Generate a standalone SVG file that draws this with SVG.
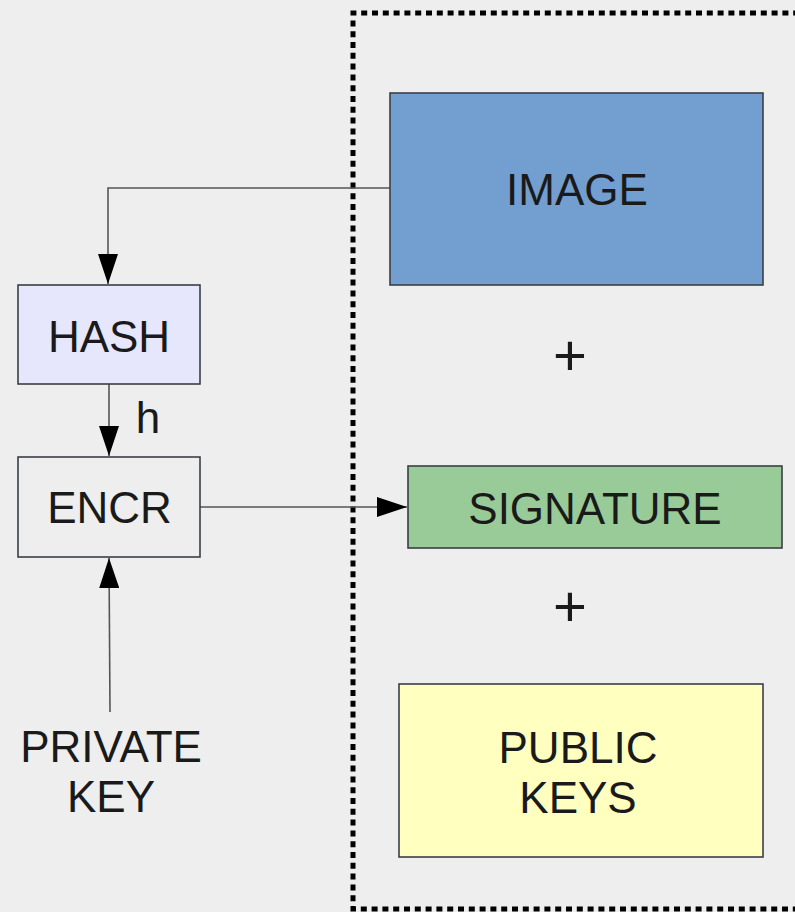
<svg xmlns="http://www.w3.org/2000/svg" width="795" height="912" viewBox="0 0 795 912">
<style>
.box{stroke:#3a3f45;stroke-width:1.6}
.lbl{font-family:"Liberation Sans",Arial,sans-serif;font-size:44px;fill:#1a1a1a;text-anchor:middle}
.conn{fill:none;stroke:#555;stroke-width:1.6}
</style>
<defs>
<marker id="arr" markerUnits="userSpaceOnUse" markerWidth="30" markerHeight="20" viewBox="0 0 30 20" refX="30" refY="10" orient="auto">
<path d="M0,0 L30,10 L0,20 Z" fill="#000"/>
</marker>
</defs>
<rect width="795" height="912" fill="#eeeeee"/>
<g id="frame">
<path d="M810,13 L353,13 L353,909 L810,909" fill="none" stroke="#000" stroke-width="5" stroke-dasharray="6 4.8"/>
</g>
<g id="connectors">
<path class="conn" d="M390,188 L108,188 L108,284" marker-end="url(#arr)"/>
<path class="conn" d="M109,384 L109,456" marker-end="url(#arr)"/>
<path class="conn" d="M200,507 L407,507" marker-end="url(#arr)"/>
<path class="conn" d="M110,712 L109,558" marker-end="url(#arr)"/>
<text class="lbl" x="148" y="433">h</text>
</g>
<g id="image">
<rect class="box" x="390" y="93" width="373" height="192" fill="#729fcf"/>
<text class="lbl" x="577" y="205">IMAGE</text>
</g>
<g id="plus1"><text class="lbl" x="570" y="375" style="font-size:58px">+</text></g>
<g id="hash">
<rect class="box" x="18" y="285" width="182" height="99" fill="#e6e6fc"/>
<text class="lbl" x="109" y="352">HASH</text>
</g>
<g id="encr">
<rect class="box" x="18" y="457" width="182" height="100" fill="#eeeeee"/>
<text class="lbl" x="109.5" y="523">ENCR</text>
</g>
<g id="signature">
<rect class="box" x="408" y="466" width="374" height="82" fill="#98cb98"/>
<text class="lbl" x="595" y="524">SIGNATURE</text>
</g>
<g id="plus2"><text class="lbl" x="570" y="626" style="font-size:58px">+</text></g>
<g id="publickeys">
<rect class="box" x="399" y="684" width="364" height="173" fill="#ffffc0"/>
<text class="lbl" x="578" y="763">PUBLIC</text>
<text class="lbl" x="578" y="813">KEYS</text>
</g>
<g id="privatekey">
<text class="lbl" x="111" y="762">PRIVATE</text>
<text class="lbl" x="111" y="812">KEY</text>
</g>
</svg>
